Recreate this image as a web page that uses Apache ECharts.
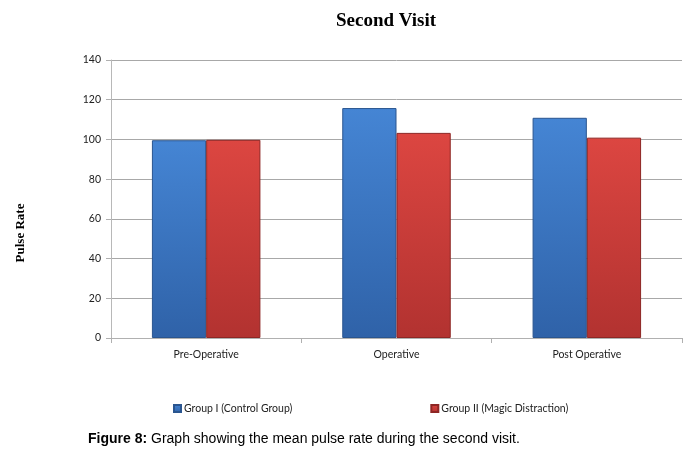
<!DOCTYPE html>
<html><head><meta charset="utf-8">
<script src="https://cdn.jsdelivr.net/npm/echarts@6/dist/echarts.min.js"></script>
<style>html,body{margin:0;padding:0;background:#fff}#c{width:688px;height:459px}</style>
</head><body><div id="c"></div>
<script>
const categories = ['Pre-Operative', 'Operative', 'Post Operative'];
const groupI = [99.6, 115.8, 110.9];
const groupII = [99.8, 103.3, 100.9];
const seriesNames = ['Group I (Control Group)', 'Group II (Magic Distraction)'];
const yTicks = {min: 0, max: 140, interval: 20};
const yTitle = 'Pulse Rate';

const chart = echarts.init(document.getElementById('c'));
function grad(top, bottom){
  return new echarts.graphic.LinearGradient(0,0,0,1,[{offset:0,color:top},{offset:1,color:bottom}]);
}
chart.setOption({
  animation: false,
  title: {text: 'Second Visit', left: 381, top: 7, textAlign: 'center',
    textStyle: {fontFamily: 'Liberation Serif', fontWeight: 'bold', fontSize: 19, color: '#000'}},
  legend: {left: 168, top: 398, itemWidth: 7, itemHeight: 7, itemGap: 138, icon: 'rect',
    textStyle: {fontFamily: 'Lato', fontSize: 10.5, color: '#222', padding: [0,0,0,-2]},
    data: seriesNames},
  grid: {left: 111, right: 6, top: 60, bottom: 121},
  xAxis: {type: 'category', data: categories,
    axisLine: {lineStyle: {color: '#b0b0b0'}},
    axisTick: {show: true, length: 5, lineStyle: {color: '#b0b0b0'}},
    axisLabel: {fontFamily: 'Lato', fontSize: 10.5, color: '#222', margin: 11}},
  yAxis: {type: 'value', min: yTicks.min, max: yTicks.max, interval: yTicks.interval,
    axisLine: {show: true, lineStyle: {color: '#b8b8b8'}},
    axisTick: {show: true, length: 5, lineStyle: {color: '#b0b0b0'}},
    splitLine: {lineStyle: {color: '#a8a8a8'}},
    axisLabel: {fontFamily: 'Lato', fontSize: 10.5, color: '#222', margin: 10}},
  series: [
    {name: seriesNames[0], type: 'bar', data: groupI, barGap: '0%', barCategoryGap: '43%',
      itemStyle: {color: grad('#4585d4', '#2f62a8'), borderColor: '#2a558f', borderWidth: 1}},
    {name: seriesNames[1], type: 'bar', data: groupII,
      itemStyle: {color: grad('#dc4641', '#b23230'), borderColor: '#8e2624', borderWidth: 1}}
  ],
  graphic: [
    {type: 'text', x: 21, y: 233, rotation: Math.PI/2,
      style: {text: yTitle, fontFamily: 'Liberation Serif', fontWeight: 'bold', fontSize: 13,
        fill: '#000', align: 'center', verticalAlign: 'middle'}},
    {type: 'text', left: 88, top: 432,
    style: {text: '{b|Figure 8:} Graph showing the mean pulse rate during the second visit.',
      rich: {b: {fontFamily: 'Liberation Sans', fontWeight: 'bold', fontSize: 14, fill: '#000'}},
      fontFamily: 'Liberation Sans', fontSize: 14, fill: '#000'}}]
});
</script></body></html>
